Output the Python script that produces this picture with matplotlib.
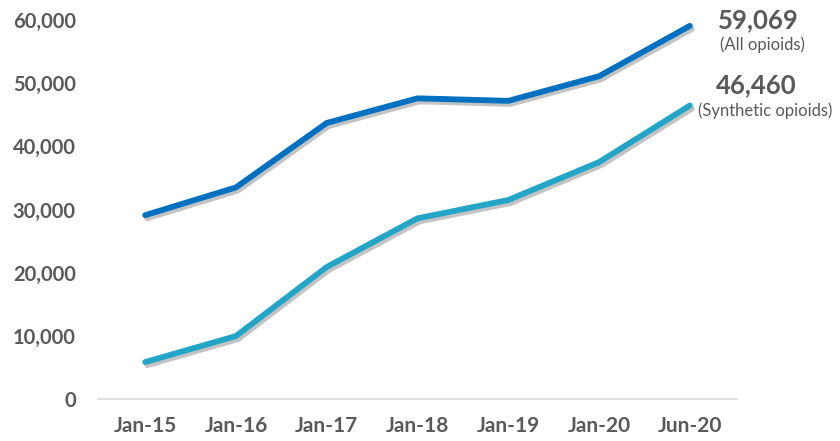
import matplotlib
matplotlib.use('Agg')
import matplotlib.pyplot as plt
import matplotlib.patheffects as pe

labels = ['Jan-15', 'Jan-16', 'Jan-17', 'Jan-18', 'Jan-19', 'Jan-20', 'Jun-20']
all_opioids = [29100, 33500, 43700, 47600, 47200, 51100, 59069]
synthetic = [5850, 9970, 20900, 28600, 31500, 37500, 46460]

plt.rcParams['font.family'] = ['Lato', 'DejaVu Sans']
grey = '#595959'

fig = plt.figure(figsize=(8.4, 4.41), dpi=100)
ax = fig.add_axes([98/840, 42/441, 639/840, 379/441])

shadow = [pe.SimpleLineShadow(offset=(1.5, -2.2), shadow_color='#555555', alpha=0.35), pe.Normal()]
x = list(range(len(labels)))
ax.plot(x, all_opioids, color='#0070C0', lw=4.2, solid_capstyle='round', path_effects=shadow, zorder=3)
ax.plot(x, synthetic, color='#23A5C8', lw=4.2, solid_capstyle='round', path_effects=shadow, zorder=3)

ax.set_xlim(-0.52, 6.52)
ax.set_ylim(0, 60000)
ax.set_xticks(x)
ax.set_xticklabels(labels)
ax.set_yticks(range(0, 60001, 10000))
ax.set_yticklabels([f'{v:,}' for v in range(0, 60001, 10000)])
ax.tick_params(length=0, labelsize=15, labelcolor=grey)
ax.tick_params(axis='y', labelsize=14.5, pad=16)
ax.tick_params(axis='x', pad=12)
for t in ax.get_xticklabels() + ax.get_yticklabels():
    t.set_fontweight('bold')
for s in ['top', 'right', 'left']:
    ax.spines[s].set_visible(False)
ax.spines['bottom'].set_color('#D9D9D9')
ax.spines['bottom'].set_linewidth(1.2)

ax.annotate(f'{all_opioids[-1]:,}', (6, all_opioids[-1]), xytext=(28, 6), textcoords='offset pixels',
            fontsize=18.5, fontweight='bold', color=grey, ha='left', va='center', annotation_clip=False)
ax.annotate('(All opioids)', (6, all_opioids[-1]), xytext=(30, -19), textcoords='offset pixels',
            fontsize=12, color=grey, ha='left', va='center', annotation_clip=False)
ax.annotate(f'{synthetic[-1]:,}', (6, synthetic[-1]), xytext=(26, 20), textcoords='offset pixels',
            fontsize=18.5, fontweight='bold', color=grey, ha='left', va='center', annotation_clip=False)
ax.annotate('(Synthetic opioids)', (6, synthetic[-1]), xytext=(8, -5), textcoords='offset pixels',
            fontsize=12, color=grey, ha='left', va='center', annotation_clip=False)

fig.savefig('out.png', dpi=100)
